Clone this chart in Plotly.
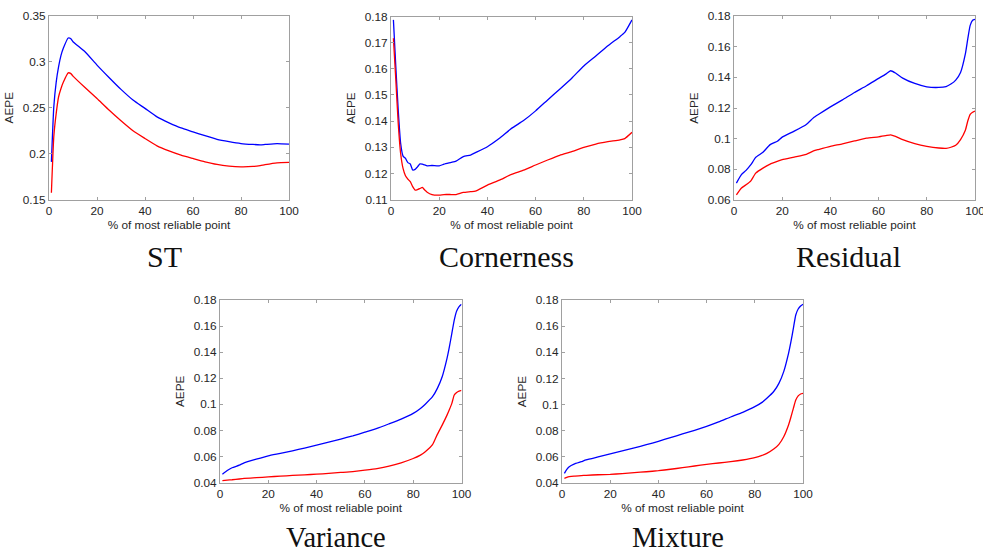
import plotly.graph_objects as go

# ---------------- data ----------------
st_x = [1, 2, 3, 4, 5, 6, 8, 9, 10, 15, 20, 25, 30, 35, 40, 45, 50, 55, 60, 65, 70, 75, 80, 85, 88, 90, 95, 100]
st_blue = [0.191, 0.251, 0.278, 0.2947, 0.307, 0.315, 0.326, 0.3255, 0.322, 0.311, 0.2965, 0.283, 0.270, 0.2584,
           0.2493, 0.240, 0.2336, 0.228, 0.2238, 0.2195, 0.2155, 0.213, 0.211, 0.210, 0.2096, 0.210, 0.211, 0.2104]
st_red = [0.1573, 0.2184, 0.2438, 0.262, 0.271, 0.278, 0.288, 0.2875, 0.2845, 0.272, 0.260, 0.2475, 0.2358, 0.2249,
          0.2165, 0.2085, 0.203, 0.1984, 0.1947, 0.1911, 0.1882, 0.1864, 0.1856, 0.186, 0.187, 0.188, 0.190, 0.1904]

co_x = [1, 2, 3, 4, 5, 6, 7, 8, 9, 10, 11, 12, 13, 14, 15, 17, 20, 22, 25, 27, 30, 33, 35, 40, 45, 50, 55, 60,
        65, 70, 75, 80, 85, 90, 95, 97, 100]
co_blue = [0.1787, 0.1608, 0.1442, 0.1315, 0.1266, 0.1257, 0.1241, 0.1236, 0.1213, 0.1215, 0.1225, 0.1236, 0.1235,
           0.1232, 0.1229, 0.1230, 0.1229, 0.1235, 0.1242, 0.1247, 0.1264, 0.1270, 0.1279, 0.1302, 0.1334, 0.1372,
           0.1402, 0.1439, 0.1481, 0.1522, 0.1564, 0.1611, 0.1649, 0.1688, 0.1723, 0.1739, 0.1787]
co_red = [0.1717, 0.1557, 0.1391, 0.1276, 0.1219, 0.1191, 0.1178, 0.1168, 0.1149, 0.1136, 0.1138, 0.1142, 0.1146,
          0.1136, 0.1128, 0.1119, 0.1117, 0.1119, 0.1119, 0.1119, 0.1127, 0.1130, 0.1132, 0.1155, 0.1174, 0.1196,
          0.1212, 0.1232, 0.1251, 0.1269, 0.1283, 0.1299, 0.1312, 0.1321, 0.1328, 0.1333, 0.1357]

re_x = [1, 3, 5, 7, 9, 12, 15, 18, 20, 25, 30, 33, 35, 40, 45, 50, 55, 60, 63, 65, 67, 70, 75, 80, 85, 88, 90,
        92, 94, 96, 97, 98, 99, 100]
re_blue = [0.0710, 0.0764, 0.0793, 0.0830, 0.0878, 0.0911, 0.0961, 0.0983, 0.1010, 0.1049, 0.1093, 0.1137, 0.1158,
           0.1207, 0.1253, 0.1301, 0.1345, 0.1393, 0.1421, 0.1443, 0.1428, 0.1395, 0.1360, 0.1338, 0.1334, 0.1340,
           0.1356, 0.1382, 0.1432, 0.1553, 0.1651, 0.1739, 0.1772, 0.1778]
re_red = [0.0633, 0.0677, 0.0699, 0.0725, 0.0775, 0.0808, 0.0834, 0.0852, 0.0863, 0.0880, 0.0898, 0.0920, 0.0929,
          0.0950, 0.0966, 0.0985, 0.1003, 0.1012, 0.1020, 0.1025, 0.1015, 0.0994, 0.0968, 0.0950, 0.0939, 0.0937,
          0.0944, 0.0957, 0.0994, 0.1055, 0.1115, 0.1158, 0.1172, 0.1180]

va_x = [1, 3, 5, 8, 10, 15, 20, 25, 30, 35, 40, 45, 50, 55, 60, 65, 70, 75, 80, 83, 85, 88, 90, 92, 94, 95, 96,
        97, 98, 99, 100]
va_blue = [0.0464, 0.0492, 0.0513, 0.0533, 0.0551, 0.0579, 0.0605, 0.0623, 0.0643, 0.0664, 0.0687, 0.0709, 0.0733,
           0.0758, 0.0786, 0.0815, 0.0850, 0.0886, 0.0930, 0.0968, 0.1001, 0.1058, 0.1122, 0.1211, 0.1352, 0.1442,
           0.1544, 0.1646, 0.1716, 0.1749, 0.1767]
va_red = [0.0415, 0.0418, 0.0421, 0.0427, 0.0431, 0.0437, 0.0443, 0.0449, 0.0454, 0.0459, 0.0464, 0.0470, 0.0477,
          0.0484, 0.0495, 0.0507, 0.0525, 0.0551, 0.0584, 0.0610, 0.0635, 0.0690, 0.0769, 0.0840, 0.0917, 0.0960,
          0.1007, 0.1071, 0.1091, 0.1101, 0.1106]

mi_x = [1, 2, 3, 5, 8, 10, 15, 20, 25, 30, 35, 40, 45, 50, 55, 60, 65, 70, 75, 80, 83, 85, 88, 90, 92, 94, 95, 96,
        97, 98, 99, 100]
mi_blue = [0.0474, 0.0504, 0.0525, 0.0545, 0.0563, 0.0576, 0.0599, 0.0622, 0.0645, 0.0668, 0.0693, 0.0719, 0.0747,
           0.0775, 0.0803, 0.0833, 0.0867, 0.0905, 0.0941, 0.0984, 0.1017, 0.1048, 0.1104, 0.1162, 0.1252, 0.1392,
           0.1481, 0.1583, 0.1685, 0.1731, 0.1754, 0.1767]
mi_red = [0.0436, 0.0443, 0.0448, 0.0453, 0.0457, 0.0459, 0.0463, 0.0466, 0.0472, 0.0479, 0.0486, 0.0494, 0.0505,
          0.0517, 0.0530, 0.0543, 0.0553, 0.0563, 0.0576, 0.0594, 0.0611, 0.0627, 0.0662, 0.0696, 0.0754, 0.0844,
          0.0905, 0.0971, 0.1035, 0.1066, 0.1081, 0.1086]

x_ticks = [0, 20, 40, 60, 80, 100]
x_tick_text = ["0", "20", "40", "60", "80", "100"]
st_yticks = [0.15, 0.2, 0.25, 0.3, 0.35]
st_ytext = ["0.15", "0.2", "0.25", "0.3", "0.35"]
co_yticks = [0.11, 0.12, 0.13, 0.14, 0.15, 0.16, 0.17, 0.18]
co_ytext = ["0.11", "0.12", "0.13", "0.14", "0.15", "0.16", "0.17", "0.18"]
re_yticks = [0.06, 0.08, 0.1, 0.12, 0.14, 0.16, 0.18]
re_ytext = ["0.06", "0.08", "0.1", "0.12", "0.14", "0.16", "0.18"]
vm_yticks = [0.04, 0.06, 0.08, 0.1, 0.12, 0.14, 0.16, 0.18]
vm_ytext = ["0.04", "0.06", "0.08", "0.1", "0.12", "0.14", "0.16", "0.18"]

titles = ["ST", "Cornerness", "Residual", "Variance", "Mixture"]
x_label = "% of most reliable point"
y_label = "AEPE"

# ---------------- layout geometry ----------------
W, H = 983, 554
panels = [
    # (x, blue, red, yticks, ytext, yrange, (left, right, top, bottom) px, title center (x, y) px)
    (st_x, st_blue, st_red, st_yticks, st_ytext, [0.15, 0.35], (49, 289, 16, 199.5), (164, 256)),
    (co_x, co_blue, co_red, co_yticks, co_ytext, [0.11, 0.18], (391, 632, 16.5, 199.5), (506, 257)),
    (re_x, re_blue, re_red, re_yticks, re_ytext, [0.06, 0.18], (734, 975, 16, 200), (848.5, 257)),
    (va_x, va_blue, va_red, vm_yticks, vm_ytext, [0.04, 0.18], (220, 461.5, 300, 482.5), (336, 537)),
    (mi_x, mi_blue, mi_red, vm_yticks, vm_ytext, [0.04, 0.18], (562, 803, 300, 483), (678, 537)),
]
title_sizes = [30, 30, 30, 28.5, 28.5]

fig = go.Figure()
tick_font = dict(family="Liberation Sans, Arial, sans-serif", size=11.8, color="#262626")
annotations = []
for i, (xs, yb, yr, yt, ytt, yrng, (l, r, t, b), (tx, ty)) in enumerate(panels):
    n = i + 1
    xa = "x" if n == 1 else f"x{n}"
    ya = "y" if n == 1 else f"y{n}"
    fig.add_trace(go.Scatter(x=xs, y=yb, mode="lines",
                             line=dict(color="#0000ff", width=1.3, shape="spline", smoothing=0.5),
                             xaxis=xa, yaxis=ya, showlegend=False, hoverinfo="skip"))
    fig.add_trace(go.Scatter(x=xs, y=yr, mode="lines",
                             line=dict(color="#ff0000", width=1.3, shape="spline", smoothing=0.5),
                             xaxis=xa, yaxis=ya, showlegend=False, hoverinfo="skip"))
    common = dict(showgrid=False, zeroline=False, showline=True, linecolor="#a0a0a0", linewidth=1,
                  mirror="ticks", ticks="inside", ticklen=3, tickcolor="#a0a0a0", tickfont=tick_font,
                  automargin=False, ticklabeloverflow="allow")
    fig.layout[f"xaxis{'' if n == 1 else n}"] = dict(
        domain=[l / W, r / W], anchor=ya, range=[0, 100], tickvals=x_ticks, ticktext=x_tick_text,
        title=dict(text=x_label, font=tick_font, standoff=2), **common)
    fig.layout[f"yaxis{'' if n == 1 else n}"] = dict(
        domain=[1 - b / H, 1 - t / H], anchor=xa, range=yrng, tickvals=yt, ticktext=ytt,
        title=dict(text=y_label, font=tick_font, standoff=6), **common)
    annotations.append(dict(text=titles[i], x=tx / W, y=1 - ty / H, xref="paper", yref="paper",
                            xanchor="center", yanchor="middle", showarrow=False, borderpad=0,
                            font=dict(family="Liberation Serif, Times New Roman, serif",
                                      size=title_sizes[i], color="#111111")))

fig.update_layout(width=W, height=H, margin=dict(l=0, r=0, t=0, b=0, autoexpand=False), paper_bgcolor="white",
                  plot_bgcolor="white", annotations=annotations, showlegend=False)

fig.write_html("out.html", config={"displayModeBar": False},
               post_script="document.body.style.margin='0px';document.body.style.overflow='hidden';")
